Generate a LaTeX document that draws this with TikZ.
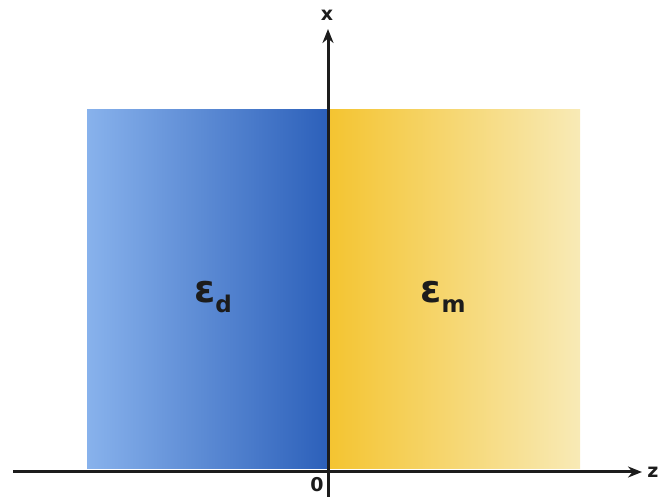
\documentclass[tikz,border=0pt]{standalone}
\usepackage{fontspec}
\setmainfont{DejaVu Sans}
\usetikzlibrary{arrows.meta}

\definecolor{dielleft}{HTML}{88B2EC}
\definecolor{dielmid}{HTML}{4A84D6}
\definecolor{dielright}{HTML}{2C60BA}
\definecolor{metleft}{HTML}{F4C430}
\definecolor{metmid}{HTML}{F6D25E}
\definecolor{metright}{HTML}{F8EAB6}
\definecolor{ink}{HTML}{1C1C1C}

\begin{document}
\begin{tikzpicture}[
  x=1pt, y=1pt,
  slab/.style={rectangle, draw=none, inner sep=0pt, minimum height=359pt},
  axis/.style={draw=ink, line width=3pt, -{Stealth[length=14pt, width=11pt]}},
  axlabel/.style={font=\bfseries\fontsize{19}{21}\selectfont, text=ink, inner sep=0pt},
  medium/.style={font=\bfseries\fontsize{38}{42}\selectfont, text=ink, inner sep=0pt}
]
\useasboundingbox (0,0) rectangle (661,497);

\node[slab, minimum width=241pt, left color=dielleft, middle color=dielmid, right color=dielright] (diel) at (207.5,207.5) {};
\node[slab, minimum width=252pt, left color=metleft, middle color=metmid, right color=metright] (metal) at (454,207.5) {};

\node[medium] (epsd) at (213,200) {ε\raisebox{-0.45ex}{\fontsize{23}{25}\selectfont d}};
\node[medium] (epsm) at (443,200) {ε\raisebox{-0.45ex}{\fontsize{23}{25}\selectfont m}};

\coordinate (zs) at (13,25);
\coordinate (ze) at (642,25);
\coordinate (xs) at (328,0);
\coordinate (xe) at (328,468);

\draw[axis] (zs) -- (ze);
\draw[axis] (xs) -- (xe);

\node[axlabel] (lz) at (653,25) {z};
\node[axlabel] (lx) at (327,482) {x};
\node[axlabel] (lo) at (317,12) {0};
\end{tikzpicture}
\end{document}
